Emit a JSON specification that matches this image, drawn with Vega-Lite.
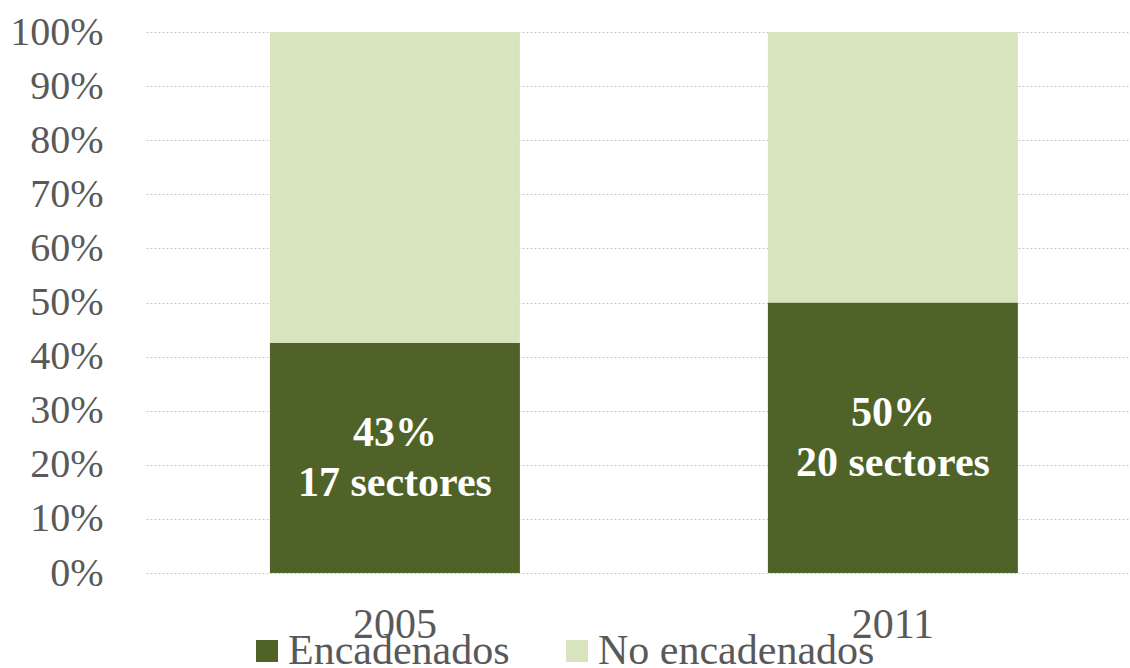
{
  "$schema": "https://vega.github.io/schema/vega-lite/v6.json",
  "autosize": {"type": "none"},
  "width": 984,
  "height": 541,
  "padding": {"left": 146, "top": 32, "right": 0, "bottom": 95},
  "background": "white",
  "config": {"view": {"stroke": null}, "font": "Liberation Serif"},
  "data": {"values": [
    {"year": "2005", "cat": "Encadenados", "value": 0.425, "label": "43%\n17 sectores"},
    {"year": "2005", "cat": "No encadenados", "value": 0.575, "label": ""},
    {"year": "2011", "cat": "Encadenados", "value": 0.50, "label": "50%\n20 sectores"},
    {"year": "2011", "cat": "No encadenados", "value": 0.50, "label": ""}
  ]},
  "encoding": {
    "x": {"field": "year", "type": "nominal",
      "scale": {"paddingInner": 0.498, "paddingOuter": 0.237, "align": 0.525},
      "axis": {"title": null, "labelAngle": 0, "ticks": false, "domain": false, "grid": false,
        "labelFont": "Liberation Serif", "labelFontSize": 42, "labelColor": "#595959",
        "labelBaseline": "alphabetic", "labelPadding": 64}}
  },
  "layer": [
    {
      "mark": {"type": "bar"},
      "encoding": {
        "y": {"field": "value", "type": "quantitative", "stack": "zero",
          "scale": {"domain": [0, 1], "nice": false},
          "axis": {"title": null, "format": ".0%", "values": [0,0.1,0.2,0.3,0.4,0.5,0.6,0.7,0.8,0.9,1],
            "ticks": false, "domain": false, "labelFont": "Liberation Serif", "labelFontSize": 40,
            "labelColor": "#595959", "labelPadding": 43,
            "gridColor": "#C8C8C8", "gridDash": [2, 2], "gridWidth": 1}},
        "order": {"field": "cat", "sort": "ascending"},
        "color": {"field": "cat", "type": "nominal",
          "scale": {"domain": ["Encadenados", "No encadenados"], "range": ["#4F6228", "#D7E4BD"]},
          "legend": {"title": null, "orient": "none", "legendX": 100, "legendY": 598,
            "direction": "horizontal", "symbolType": "square", "symbolSize": 484,
            "symbolStrokeWidth": 0, "labelFont": "Liberation Serif", "labelFontSize": 42,
            "labelColor": "#595959", "columnPadding": 46, "labelOffset": 0, "padding": 0,
            "labelLimit": 400}}
      }
    },
    {
      "mark": {"type": "rule", "color": "#D9D9D9", "strokeWidth": 2},
      "encoding": {"y": {"datum": 0, "type": "quantitative"}}
    },
    {
      "transform": [{"filter": "datum.label != ''"}, {"calculate": "datum.value / 2", "as": "mid"}],
      "mark": {"type": "text", "color": "white", "fontWeight": "bold", "fontSize": 42,
        "font": "Liberation Serif", "lineBreak": "\n", "lineHeight": 50, "baseline": "middle", "align": "center", "dy": -25},
      "encoding": {
        "y": {"field": "mid", "type": "quantitative"},
        "text": {"field": "label", "type": "nominal"}
      }
    }
  ]
}
